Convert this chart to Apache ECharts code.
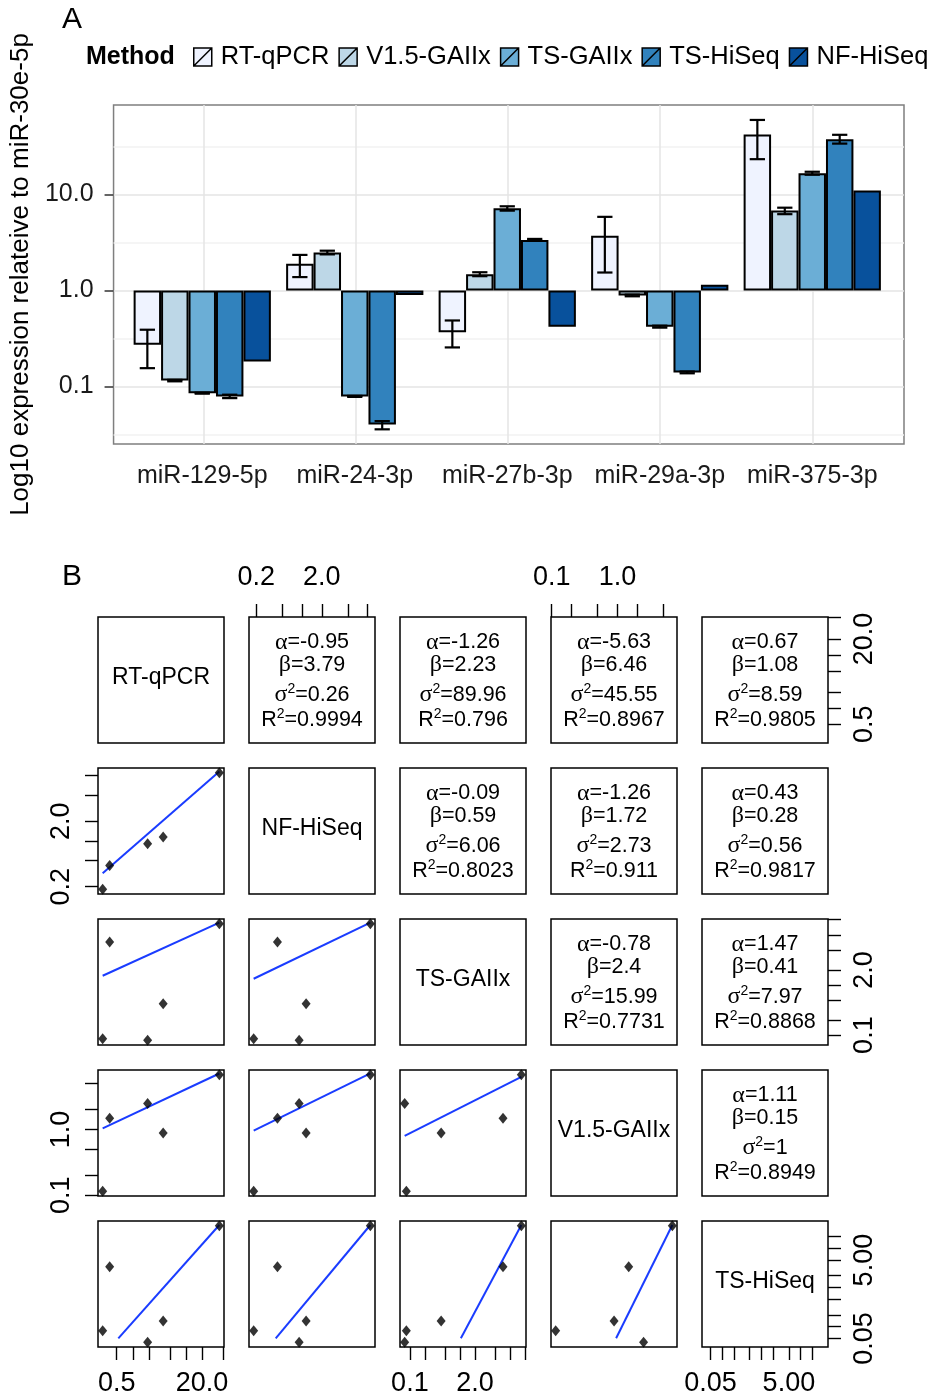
<!DOCTYPE html>
<html>
<head>
<meta charset="utf-8">
<title>miRNA expression by method</title>
<script src="https://cdn.jsdelivr.net/npm/echarts@6/dist/echarts.min.js"></script>
<style>
  html, body { margin: 0; padding: 0; background: #fff; }
  #chart { width: 932px; height: 1399px; }
</style>
</head>
<body>
<div id="chart"></div>
<script>
// panel A data: expression relative to miR-30e-5p
const mirnas = ['miR-129-5p', 'miR-24-3p', 'miR-27b-3p', 'miR-29a-3p', 'miR-375-3p']
const methods = ['RT-qPCR', 'V1.5-GAIIx', 'TS-GAIIx', 'TS-HiSeq', 'NF-HiSeq']
const methodColors = ['#eff3ff', '#bdd7e7', '#6baed6', '#3182bd', '#08519c']

const rtqpcr  = [0.272, 1.90, 0.368, 3.72, 42.2]
const v15gaii = [0.115, 2.49, 1.48, 0.887, 6.81]
const tsgaii  = [0.085, 0.0787, 7.2, 0.42, 16.7]
const tshiseq = [0.0787, 0.040, 3.37, 0.14, 37.8]
const nfhiseq = [0.182, 0.90, 0.42, 1.15, 11.0]

// error bars [low, high], null = none
const rtqpcrErr  = [[0.155, 0.39], [1.38, 2.35], [0.255, 0.487], [1.54, 5.86], [23.4, 60]]
const v15gaiiErr = [[0.113, 0.117], [2.38, 2.6], [1.41, 1.55], [0.87, 0.905], [6.25, 7.3]]
const tsgaiiErr  = [[0.084, 0.086], [0.0778, 0.0796], [6.8, 7.55], [0.41, 0.43], [16.1, 17.3]]
const tshiseqErr = [[0.0755, 0.082], [0.0357, 0.0435], [3.3, 3.45], [0.137, 0.143], [34, 42]]
const nfhiseqErr = [null, null, null, null, null]

const yRangeA = [0.0251, 85.9]
const yTicksA = [0.1, 1, 10]
const yMinorA = [0.0316, 0.316, 3.16, 31.6]

// panel B data: pairs plot
const pairVars = ['RT-qPCR', 'NF-HiSeq', 'TS-GAIIx', 'V1.5-GAIIx', 'TS-HiSeq']
const pairValues = [rtqpcr, nfhiseq, tsgaii, v15gaii, tshiseq]
const pairTicks = [
  [0.5, 1, 2, 5, 10, 20, 50],
  [0.2, 0.5, 1, 2, 5, 10],
  [0.1, 0.2, 0.5, 1, 2, 5, 10, 20],
  [0.1, 0.2, 0.5, 1, 2, 5],
  [0.05, 0.1, 0.2, 0.5, 1, 2, 5, 10, 20, 50]
]
const pairTickLabels = [[0.5, 20], [0.2, 2], [0.1, 2], [0.1, 1], [0.05, 5]]
const pairDigits = [1, 1, 1, 1, 2]

// [row, col, alpha, beta, sigma2, R2]
const fitStats = [
  [0, 1, -0.95, 3.79, 0.26, 0.9994],
  [0, 2, -1.26, 2.23, 89.96, 0.796],
  [0, 3, -5.63, 6.46, 45.55, 0.8967],
  [0, 4, 0.67, 1.08, 8.59, 0.9805],
  [1, 2, -0.09, 0.59, 6.06, 0.8023],
  [1, 3, -1.26, 1.72, 2.73, 0.911],
  [1, 4, 0.43, 0.28, 0.56, 0.9817],
  [2, 3, -0.78, 2.4, 15.99, 0.7731],
  [2, 4, 1.47, 0.41, 7.97, 0.8868],
  [3, 4, 1.11, 0.15, 1, 0.8949]
]

// [row, col, x0, y0, x1, y1] fitted line ends
const fitLines = [
  [1, 0, 0.272, 0.32, 42.2, 11.5],
  [2, 0, 0.272, 1.53, 42.2, 17.5],
  [2, 1, 0.182, 1.33, 11.0, 17.5],
  [3, 0, 0.272, 1.04, 42.2, 7.1],
  [3, 1, 0.182, 0.96, 11.0, 7.1],
  [3, 2, 0.0787, 0.80, 16.7, 6.3],
  [4, 0, 0.535, 0.0507, 42.2, 39.3],
  [4, 1, 0.395, 0.0507, 11.0, 39.3],
  [4, 2, 1.04, 0.0507, 16.7, 39.3],
  [4, 3, 0.953, 0.0507, 6.81, 39.3]
]

const FONT = "'Liberation Sans', Arial, Helvetica, sans-serif"
const GREEK = "'Liberation Serif', 'DejaVu Serif', serif"

const cellLeft = [98, 249, 400, 551, 702]
const cellTop = [617, 768, 919, 1070, 1221]
const cellSize = 126

const paddedRange = (vals) => {
  const lo = Math.log10(Math.min(...vals))
  const hi = Math.log10(Math.max(...vals))
  const pad = (hi - lo) * 0.04
  return [Math.pow(10, lo - pad), Math.pow(10, hi + pad)]
}
const pairRanges = pairValues.map(paddedRange)

const grid = []
const xAxis = []
const yAxis = []
const series = []
const graphics = []

// ---- panel A ----
grid.push({ left: 112, top: 105, width: 792, height: 339, show: true,
  borderColor: '#7f7f7f', borderWidth: 1.5, backgroundColor: '#fff' })
grid.push({ left: 126, top: 105, width: 762.5, height: 339 })

xAxis.push({
  type: 'value', gridIndex: 0, min: -0.592, max: 4.602,
  axisLine: { show: false, onZero: false },
  axisTick: { show: false, customValues: [0, 1, 2, 3, 4] },
  axisLabel: { show: false },
  splitLine: { show: true, lineStyle: { color: '#e5e5e5', width: 1.5 } }
})
xAxis.push({
  type: 'category', gridIndex: 1, data: mirnas,
  axisLine: { show: false, onZero: false },
  axisTick: { alignWithLabel: true, length: 10, lineStyle: { color: '#333', width: 1.5 } },
  axisLabel: { interval: 0, fontSize: 25, fontFamily: FONT, color: '#1a1a1a', margin: 20 },
  splitLine: { show: false }
})

yAxis.push({
  type: 'log', gridIndex: 0, min: yRangeA[0], max: yRangeA[1],
  name: 'Log10 expression relateive to miR-30e-5p',
  nameLocation: 'middle', nameGap: 74,
  nameTextStyle: { fontSize: 26, fontFamily: FONT, color: '#000' },
  axisLine: { show: false, onZero: false },
  axisTick: { show: true, customValues: yTicksA, length: 9, lineStyle: { color: '#333', width: 1.5 } },
  axisLabel: { customValues: yTicksA, formatter: v => v.toFixed(1), fontSize: 25,
    fontFamily: FONT, color: '#1a1a1a', margin: 20 },
  splitLine: { show: true, lineStyle: { color: '#e5e5e5', width: 1.5 } }
})
yAxis.push({
  type: 'log', gridIndex: 0, min: yRangeA[0], max: yRangeA[1],
  axisLine: { show: false, onZero: false },
  axisTick: { show: false, customValues: yMinorA },
  axisLabel: { show: false },
  splitLine: { show: true, lineStyle: { color: '#f2f2f2', width: 1.5 } }
})
yAxis.push({ type: 'log', gridIndex: 1, min: yRangeA[0], max: yRangeA[1], show: false,
  axisLine: { onZero: false } })

const barValues = [rtqpcr, v15gaii, tsgaii, tshiseq, nfhiseq]
const barErrors = [rtqpcrErr, v15gaiiErr, tsgaiiErr, tshiseqErr, nfhiseqErr]

methods.forEach((m, k) => {
  series.push({
    name: m, type: 'bar', xAxisIndex: 1, yAxisIndex: 2,
    data: barValues[k], barWidth: '18%', barGap: '0%',
    itemStyle: { color: methodColors[k], borderColor: '#000', borderWidth: 2 },
    emphasis: { disabled: true }
  })
})

barErrors.forEach((errs, k) => {
  const data = errs.map((e, i) => e ? [i, e[0], e[1]] : null).filter(Boolean)
  if (!data.length) return
  series.push({
    type: 'custom', xAxisIndex: 1, yAxisIndex: 2, z: 4, data,
    renderItem: (params, api) => {
      const band = api.size([1, 1], [0, 1])[0]
      const cx = api.coord([api.value(0), 1])[0] + (k - 2) * band * 0.18
      const yLo = api.coord([api.value(0), api.value(1)])[1]
      const yHi = api.coord([api.value(0), api.value(2)])[1]
      const half = band * 0.05
      const st = { stroke: '#000', lineWidth: 2.2 }
      return {
        type: 'group',
        children: [
          { type: 'line', shape: { x1: cx, y1: yLo, x2: cx, y2: yHi }, style: st },
          { type: 'line', shape: { x1: cx - half, y1: yLo, x2: cx + half, y2: yLo }, style: st },
          { type: 'line', shape: { x1: cx - half, y1: yHi, x2: cx + half, y2: yHi }, style: st }
        ]
      }
    }
  })
})

// ---- panel B ----
const tickFmt = (d) => (v) => v.toFixed(d)

for (let i = 0; i < 5; i++) {
  for (let j = 0; j < 5; j++) {
    const idx = i * 5 + j
    grid.push({ left: cellLeft[j], top: cellTop[i], width: cellSize, height: cellSize,
      show: true, borderColor: '#000', borderWidth: 1.5, backgroundColor: 'transparent' })
    const showX = (i === 0 && j % 2 === 1) || (i === 4 && j % 2 === 0)
    const showY = (j === 0 && i % 2 === 1) || (j === 4 && i % 2 === 0)
    xAxis.push({
      type: 'log', gridIndex: 2 + idx, min: pairRanges[j][0], max: pairRanges[j][1],
      position: i === 0 ? 'top' : 'bottom',
      axisLine: { show: false, onZero: false },
      axisTick: { show: showX, customValues: pairTicks[j], length: 13, lineStyle: { color: '#000', width: 1.4 } },
      axisLabel: { show: showX, customValues: pairTickLabels[j], formatter: tickFmt(pairDigits[j]),
        fontSize: 27, fontFamily: FONT, color: '#000', margin: i === 0 ? 26 : 23 },
      splitLine: { show: false }
    })
    yAxis.push({
      type: 'log', gridIndex: 2 + idx, min: pairRanges[i][0], max: pairRanges[i][1],
      position: j === 0 ? 'left' : 'right',
      axisLine: { show: false, onZero: false },
      axisTick: { show: showY, customValues: pairTicks[i], length: 13, lineStyle: { color: '#000', width: 1.4 } },
      axisLabel: { show: showY, customValues: pairTickLabels[i], formatter: tickFmt(pairDigits[i]),
        rotate: 90, fontSize: 27, fontFamily: FONT, color: '#000', margin: 23 },
      splitLine: { show: false }
    })

    if (i > j) {
      series.push({
        type: 'scatter', xAxisIndex: 2 + idx, yAxisIndex: 3 + idx,
        data: pairValues[j].map((x, k) => [x, pairValues[i][k]]),
        symbol: 'diamond', symbolSize: [9, 11],
        itemStyle: { color: '#000' }, z: 5, silent: true
      })
    }
    if (i === j) {
      graphics.push({
        type: 'text', x: cellLeft[j] + cellSize / 2, y: cellTop[i] + 61,
        style: { text: pairVars[i], fontSize: 23, fontFamily: FONT, fill: '#000',
          align: 'center', verticalAlign: 'middle' }
      })
    }
  }
}

fitLines.forEach(([r, c, x0, y0, x1, y1]) => {
  const idx = r * 5 + c
  series.push({
    type: 'line', xAxisIndex: 2 + idx, yAxisIndex: 3 + idx,
    data: [[x0, y0], [x1, y1]], showSymbol: false, symbol: 'none', clip: true,
    lineStyle: { color: '#1a3cff', width: 2 }, z: 4, silent: true
  })
})

const statRich = {
  g: { fontFamily: GREEK, fontSize: 24 },
  sup: { fontFamily: FONT, fontSize: 14, lineHeight: 14, verticalAlign: 'top' }
}
const statOffsets = [25.5, 48, 78, 103.5]
fitStats.forEach(([r, c, a, b, s2, r2]) => {
  const lines = [`{g|α}=${a}`, `{g|β}=${b}`, `{g|σ}{sup|2}=${s2}`, `R{sup|2}=${r2}`]
  lines.forEach((t, n) => {
    graphics.push({
      type: 'text', x: cellLeft[c] + cellSize / 2, y: cellTop[r] + statOffsets[n],
      style: { text: t, rich: statRich, fontSize: 21.5, lineHeight: 26, fontFamily: FONT,
        fill: '#000', align: 'center', verticalAlign: 'middle' }
    })
  })
})

// panel letters and legend title
graphics.push({ type: 'text', x: 62, y: 20, style: { text: 'A', fontSize: 30, fontFamily: FONT,
  fill: '#000', verticalAlign: 'middle' } })
graphics.push({ type: 'text', x: 62, y: 577, style: { text: 'B', fontSize: 30, fontFamily: FONT,
  fill: '#000', verticalAlign: 'middle' } })
graphics.push({ type: 'text', x: 86, y: 57, style: { text: 'Method', fontSize: 25, fontWeight: 'bold',
  fontFamily: FONT, fill: '#000', verticalAlign: 'middle' } })

const chart = echarts.init(document.getElementById('chart'))
chart.setOption({
  backgroundColor: '#fff',
  animation: false,
  legend: {
    data: methods, left: 193, top: 44, padding: 0,
    itemWidth: 18, itemHeight: 18, itemGap: 9,
    icon: 'path://M0,0H10V10H0Z M0,10L10,0',
    itemStyle: { borderColor: '#000', borderWidth: 1.5 },
    textStyle: { fontSize: 25.5, fontFamily: FONT, color: '#000', padding: [0, 0, 0, 4] },
    selectedMode: false
  },
  grid, xAxis, yAxis, series,
  graphic: { elements: graphics }
})
</script>
</body>
</html>
